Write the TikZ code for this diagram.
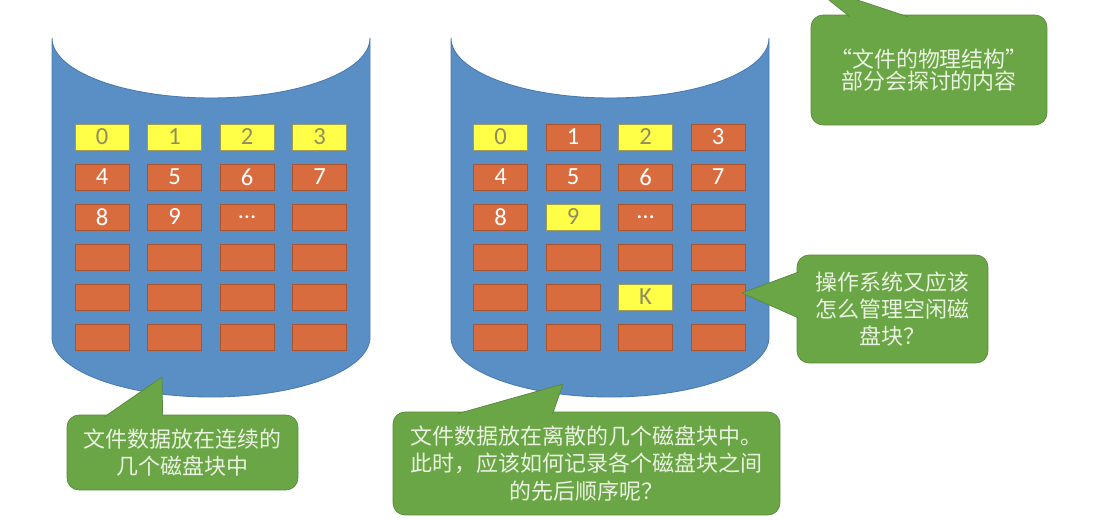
\documentclass[tikz,border=0pt]{standalone}
\usepackage{fontspec}
\setmainfont{Carlito}
\newfontfamily\cjk{Noto Sans CJK SC}
\usetikzlibrary{calc}
\definecolor{diskblue}{HTML}{5A8FC6}
\definecolor{diskedge}{HTML}{4A7BAF}
\definecolor{blkred}{HTML}{D96C3E}
\definecolor{blkredge}{HTML}{A9532F}
\definecolor{blkyel}{HTML}{FFFF47}
\definecolor{blkyedge}{HTML}{9C9C58}
\definecolor{blkytext}{HTML}{8E8E62}
\definecolor{tipgreen}{HTML}{6BA646}
\definecolor{tipedge}{HTML}{56893A}
\definecolor{tiptext}{HTML}{EAF2E2}

\begin{document}
\begin{tikzpicture}[x=0.02cm, y=-0.02cm,
    disk/.style={fill=diskblue, draw=diskedge, line width=0.5pt},
    free/.style={draw=blkredge, fill=blkred, text=white, minimum width=1.08cm, minimum height=0.52cm, inner sep=0pt, font=\fontsize{14}{14}\selectfont},
    used/.style={free, draw=blkyedge, fill=blkyel, text=blkytext},
    bubble/.style={draw=tipedge, fill=tipgreen, text=tiptext, rounded corners=0.24cm, align=center, inner sep=0pt, font=\cjk\fontsize{12.5}{15.5}\selectfont},
    tail/.style={draw=tipedge, fill=tipgreen}]
\useasboundingbox (0,0) rectangle (1099,520);
\clip (0,0) rectangle (1099,520);

% the two disks
\path[disk] (52,38) -- (52,337) arc[start angle=180, end angle=0, x radius=159, y radius=60]
    -- (370,38) arc[start angle=0, end angle=180, x radius=159, y radius=60] -- cycle;
\path[disk] (451,38) -- (451,337) arc[start angle=180, end angle=0, x radius=159, y radius=60]
    -- (769,38) arc[start angle=0, end angle=180, x radius=159, y radius=60] -- cycle;

% blocks, continuous
\foreach \s/\t [count=\i from 0] in {used/0,used/1,used/2,used/3,free/4,free/5,free/6,free/7,
    free/8,free/9,free/\ldots,free/{},free/{},free/{},free/{},free/{},
    free/{},free/{},free/{},free/{},free/{},free/{},free/{},free/{}}{
  \pgfmathtruncatemacro\cc{mod(\i,4)}
  \pgfmathtruncatemacro\rr{div(\i,4)}
  \node[\s] (A\i) at ({102+72.5*\cc},{137+40*\rr}) {\t};
}
% blocks, scattered
\foreach \s/\t [count=\i from 0] in {used/0,free/1,used/2,free/3,free/4,free/5,free/6,free/7,
    free/8,used/9,free/\ldots,free/{},free/{},free/{},free/{},free/{},
    free/{},free/{},used/K,free/{},free/{},free/{},free/{},free/{}}{
  \pgfmathtruncatemacro\cc{mod(\i,4)}
  \pgfmathtruncatemacro\rr{div(\i,4)}
  \node[\s] (B\i) at ({500.5+72.5*\cc},{137+40*\rr}) {\t};
}

% callouts
\node[bubble, minimum width=4.72cm, minimum height=2.2cm, font=\cjk\fontsize{12.5}{12.8}\selectfont] (b1) at (929,70) {“文件的物理结构”\\部分会探讨的内容};
\coordinate (t1) at (809,-16);
\filldraw[tail] ($(b1.north west)+(39,2)$) -- (t1) -- ($(b1.north west)+(97,2)$);

\node[bubble, minimum width=3.82cm, minimum height=2.16cm] (b2) at (892.5,309) {操作系统又应该\\怎么管理空闲磁\\盘块？};
\coordinate (t2) at (742,293);
\filldraw[tail] ($(b2.west)+(2,-37)$) -- (t2) -- ($(b2.west)+(2,9)$);

\node[bubble, minimum width=4.62cm, minimum height=1.5cm] (b3) at (182.5,452.5) {文件数据放在连续的\\几个磁盘块中};
\coordinate (t3) at (162,377);
\filldraw[tail] ($(b3.north west)+(38,2)$) -- (t3) -- ($(b3.north west)+(96,2)$);

\node[bubble, minimum width=7.74cm, minimum height=2.06cm] (b4) at (586.5,463.5) {文件数据放在离散的几个磁盘块中。\\此时，应该如何记录各个磁盘块之间\\的先后顺序呢？};
\coordinate (t4) at (563,384);
\filldraw[tail] ($(b4.north west)+(65,2)$) -- (t4) -- ($(b4.north west)+(160,2)$);
\end{tikzpicture}
\end{document}
